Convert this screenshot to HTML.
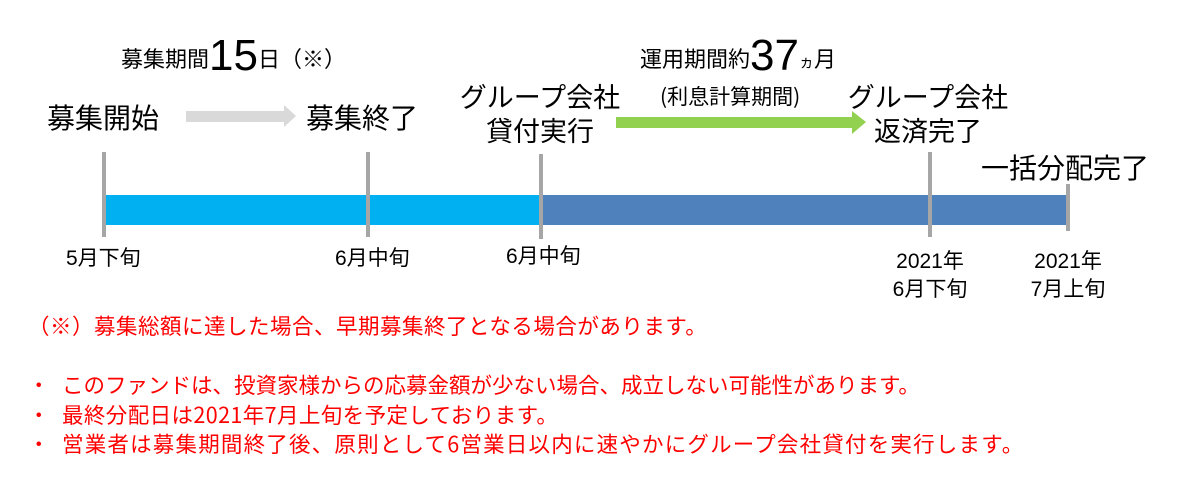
<!DOCTYPE html>
<html><head><meta charset="utf-8"><style>
body{margin:0;width:1181px;height:477px;background:#fff;position:relative;overflow:hidden;font-family:"Liberation Sans","Noto Sans CJK JP",sans-serif;color:#000}
.t{position:absolute;white-space:nowrap;line-height:1}
.c{text-align:center}
.r{color:#f00;font-size:21.5px;font-family:"Noto Sans CJK JP",sans-serif}
.tick{position:absolute;width:4px;background:#a6a6a6}
</style></head><body>
<div class="t" style="left:121px;top:34px;font-size:22px">募集期間<span style="font-size:44px;vertical-align:-3px">15</span>日（※）</div>
<div class="t" style="left:640px;top:34px;font-size:22px">運用期間約<span style="font-size:44px;vertical-align:-3px">37</span><span style="font-size:15px">ヵ</span>月</div>

<div class="t" style="left:47px;top:105px;font-size:28px">募集開始</div>
<svg style="position:absolute;left:186px;top:104px" width="112" height="24"><polygon points="0,7 98,7 98,1 110,12 98,23 98,18 0,18" fill="#d9d9d9"/></svg>
<div class="t" style="left:306px;top:105px;font-size:28px">募集終了</div>

<div class="t c" style="left:440px;width:200px;top:81px;font-size:27px;line-height:34px">グループ会社<br>貸付実行</div>
<div class="t" style="left:660px;top:86px;font-size:21px;font-family:'Noto Sans CJK JP',sans-serif">(利息計算期間)</div>
<svg style="position:absolute;left:616px;top:110px" width="254" height="26"><polygon points="0,7 236,7 236,1 250,12 236,24 236,18 0,18" fill="#92d050"/></svg>
<div class="t c" style="left:828px;width:200px;top:81px;font-size:27px;line-height:34px">グループ会社<br>返済完了</div>
<div class="t" style="left:981px;top:155px;font-size:28px">一括分配完了</div>

<div style="position:absolute;left:104px;top:195px;width:437px;height:30px;background:#00b0f0"></div>
<div style="position:absolute;left:541px;top:195px;width:527px;height:30px;background:#4f81bd"></div>
<div class="tick" style="left:102px;top:152px;height:85px"></div>
<div class="tick" style="left:366px;top:152px;height:85px"></div>
<div class="tick" style="left:539px;top:154px;height:85px"></div>
<div class="tick" style="left:928px;top:152px;height:85px"></div>
<div class="tick" style="left:1066px;top:184px;height:47px"></div>

<div class="t" style="left:66px;top:248px;font-size:21px">5月下旬</div>
<div class="t" style="left:335px;top:248px;font-size:21px">6月中旬</div>
<div class="t" style="left:506px;top:246px;font-size:21px">6月中旬</div>
<div class="t c" style="left:880px;width:100px;top:248px;font-size:21px;line-height:28px">2021年<br>6月下旬</div>
<div class="t c" style="left:1018px;width:100px;top:248px;font-size:21px;line-height:28px">2021年<br>7月上旬</div>

<div class="t r" style="left:28px;top:315px;letter-spacing:0.5px">（※）募集総額に達した場合、早期募集終了となる場合があります。</div>
<div class="t r" style="left:28px;top:374px">・ <span style="position:absolute;left:34px">このファンドは、投資家様からの応募金額が少ない場合、成立しない可能性があります。</span></div>
<div class="t r" style="left:28px;top:404px">・ <span style="position:absolute;left:34px;letter-spacing:0.4px">最終分配日は2021年7月上旬を予定しております。</span></div>
<div class="t r" style="left:28px;top:433px">・ <span style="position:absolute;left:34px;letter-spacing:1.2px">営業者は募集期間終了後、原則として6営業日以内に速やかにグループ会社貸付を実行します。</span></div>
</body></html>
